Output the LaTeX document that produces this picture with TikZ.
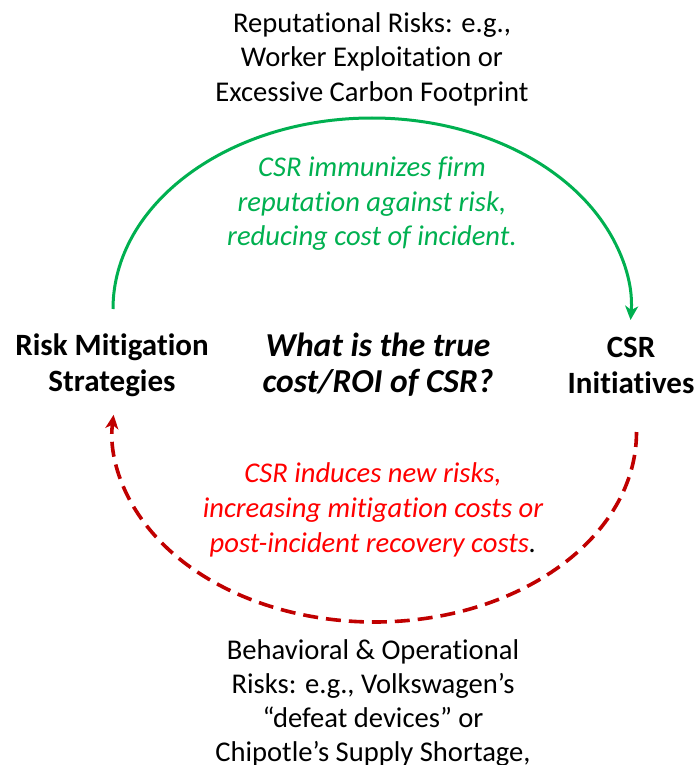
\documentclass[tikz,border=0pt]{standalone}
\usepackage{fontspec}
\setmainfont{Carlito}[Ligatures=NoCommon]
\usetikzlibrary{arrows.meta}
\definecolor{posgreen}{HTML}{00B050}
\definecolor{negred}{HTML}{C00000}
\definecolor{textred}{HTML}{FF0000}
\tikzset{
  plain/.style={align=center, font=\fontsize{28.6}{34.5}\selectfont},
  greennote/.style={plain, text=posgreen, font=\fontsize{28.6}{34.5}\selectfont\itshape},
  rednote/.style={plain, text=textred, font=\fontsize{28.6}{35}\selectfont\itshape},
  sidelabel/.style={align=center, font=\fontsize{31}{36}\selectfont\bfseries},
  question/.style={align=center, font=\fontsize{33.5}{36}\selectfont\bfseries\itshape},
  gainarc/.style={draw=posgreen, line width=3pt, -{Stealth[length=14pt,width=13pt,inset=4pt]}},
  costarc/.style={draw=negred, line width=3.6pt, dash pattern=on 15pt off 8pt, -{Stealth[length=14pt,width=13pt,inset=4pt]}}
}
\begin{document}
\begin{tikzpicture}[x=1pt, y=-1pt]
  \useasboundingbox (0,0) rectangle (698,765);

  % category labels
  \node[plain] (rep) at (372,59) {Reputational Risks: e.g.,\\Worker Exploitation or\\Excessive Carbon Footprint};
  \node[plain, anchor=north, font=\fontsize{28.6}{34}\selectfont] (beh) at (373,636) {Behavioral \& Operational\\Risks: e.g., Volkswagen’s\\“defeat devices” or\\Chipotle’s Supply Shortage,};

  % the two poles and the central question
  \node[sidelabel] (risk) at (112,365) {Risk Mitigation\\Strategies};
  \node[sidelabel] (csr) at (631,365) {CSR\\Initiatives};
  \node[question] (q) at (378,365) {What is the true\\cost/ROI of CSR?};

  % arc end points
  \coordinate (gstart) at (113,309);
  \coordinate (rstart) at (636.5,432);

  % positive effect: CSR protects reputation
  \draw[gainarc] (gstart) arc[start angle=180, end angle=363.3, x radius=259, y radius=191];
  \node[greennote] (gnote) at (372,204) {CSR immunizes firm\\reputation against risk,\\reducing cost of incident.};

  % negative effect: CSR creates new risks
  \draw[costarc] (rstart) arc[start angle=0, end angle=185.2, x radius=262, y radius=190];
  \node[rednote] (rnote) at (373,510) {CSR induces new risks,\\increasing mitigation costs or\\post-incident recovery costs{\color{black}.}};
\end{tikzpicture}
\end{document}
